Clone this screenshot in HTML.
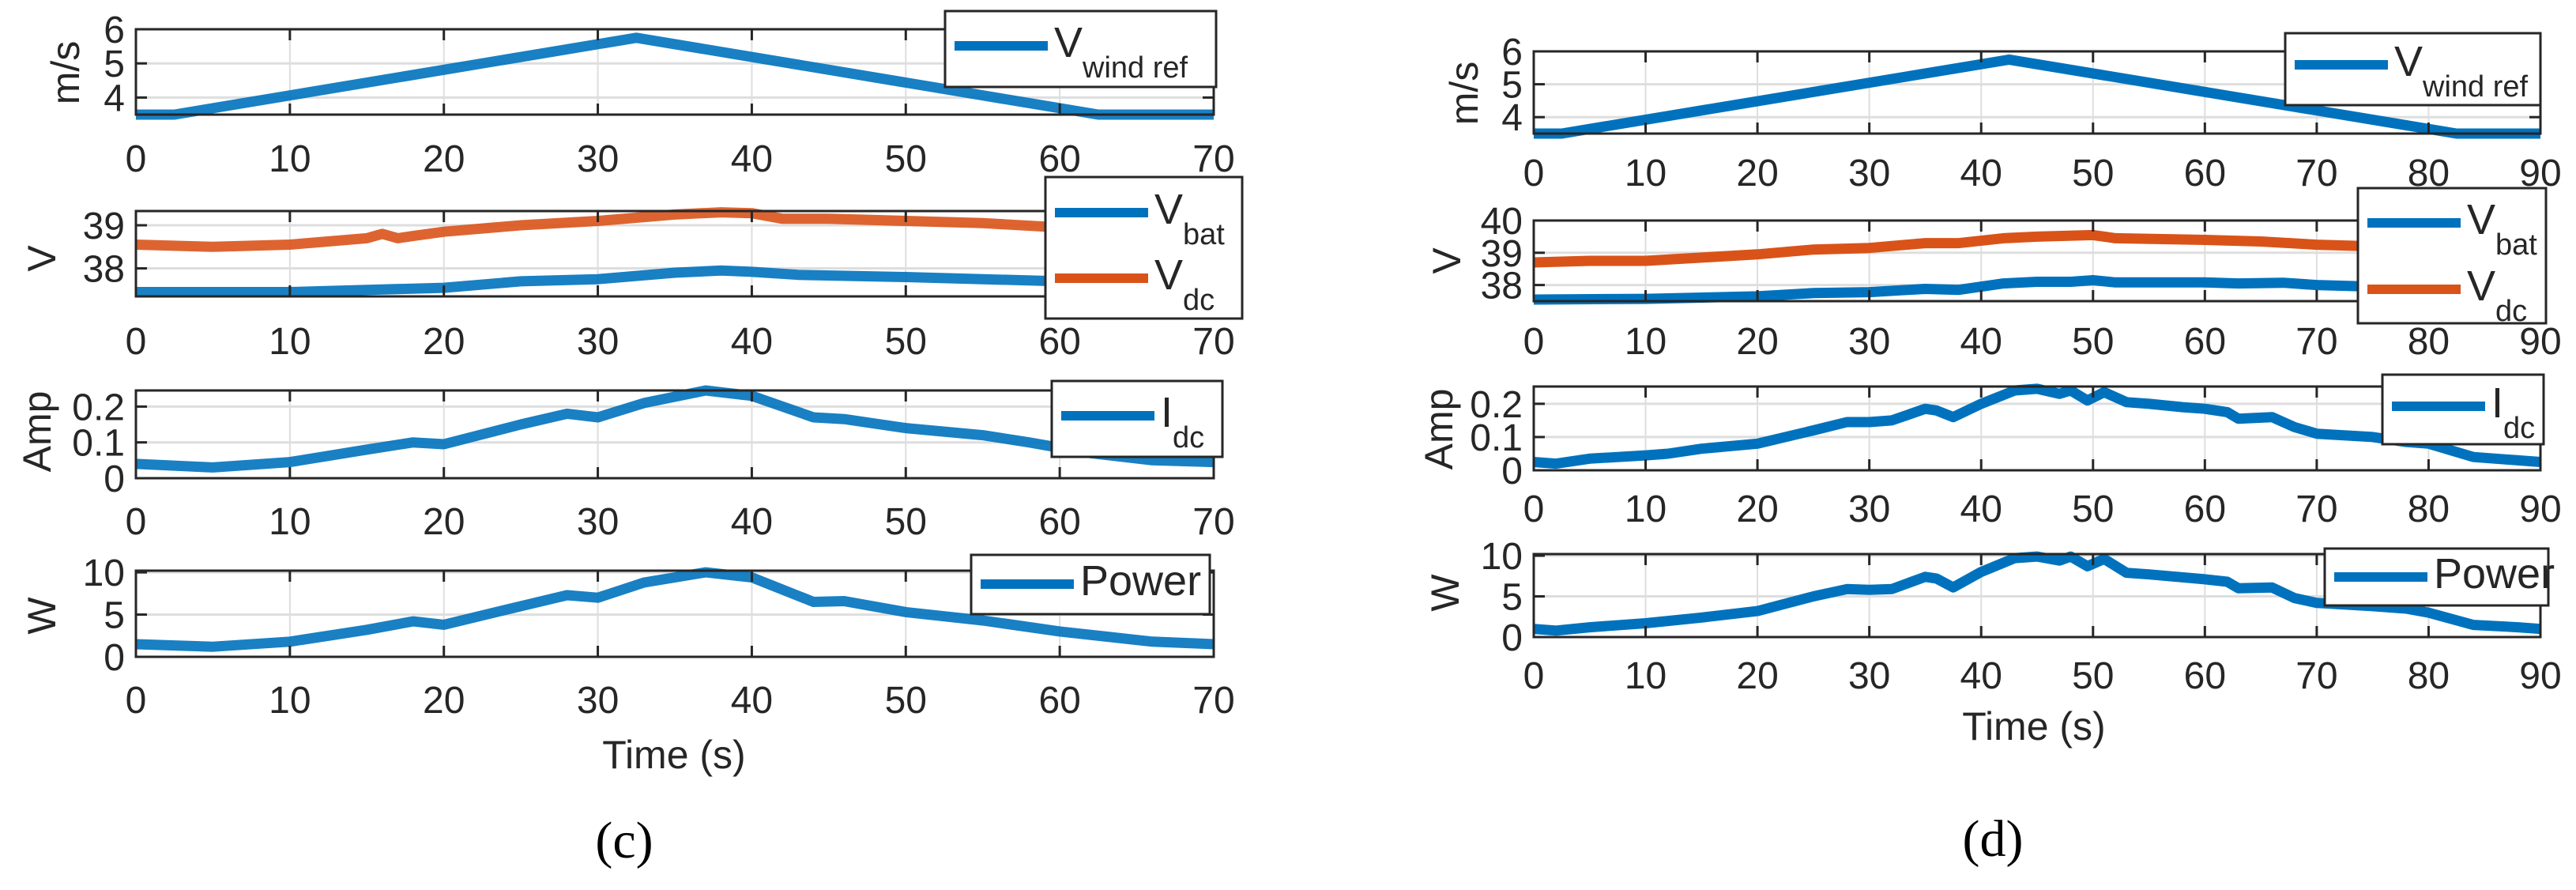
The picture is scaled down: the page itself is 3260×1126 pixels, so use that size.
<!DOCTYPE html>
<html><head><meta charset="utf-8">
<style>
html,body{margin:0;padding:0;background:#fff;}
svg{display:block;}
text{font-family:"Liberation Sans",Arial,sans-serif;fill:#262626;}
</style></head>
<body>
<svg id="fig" width="3260" height="1126" viewBox="0 0 3260 1126" xmlns="http://www.w3.org/2000/svg">
<text x="790" y="1085" font-size="66" style="font-family:'Liberation Serif',serif;fill:#000" text-anchor="middle">(c)</text>
<text x="2522" y="1083" font-size="66" style="font-family:'Liberation Serif',serif;fill:#000" text-anchor="middle">(d)</text>
<text x="853" y="972" font-size="50" text-anchor="middle">Time (s)</text>
<text x="2574" y="936" font-size="50" text-anchor="middle">Time (s)</text>
</svg>
<script>
// ---- Panel (c) data ----
const cTicksX = [0,10,20,30,40,50,60,70];
const cWindT = [0,2.5,32.5,62.5,70];
const cWindV = [3.5,3.5,5.75,3.5,3.5];
const cVdcT = [0,5,10,15,16,17,18,20,25,30,35,38,40,42,45,50,55,60,65,70];
const cVdcV = [38.55,38.5,38.55,38.7,38.8,38.7,38.75,38.85,39.0,39.1,39.25,39.3,39.28,39.15,39.15,39.1,39.05,38.95,38.95,38.9];
const cVbatT = [0,10,20,25,30,35,38,40,43,50,60,70];
const cVbatV = [37.45,37.45,37.55,37.7,37.75,37.9,37.95,37.92,37.85,37.8,37.7,37.65];
const cIdcT = [0,5,10,15,18,20,25,28,30,33,37,40,44,46,50,55,58,62,66,70];
const cIdcV = [0.04,0.03,0.045,0.08,0.1,0.095,0.15,0.18,0.17,0.21,0.245,0.23,0.17,0.165,0.14,0.12,0.1,0.07,0.05,0.045];
const cPowT = [0,5,10,15,18,20,25,28,30,33,37,40,44,46,50,55,60,66,70];
const cPowV = [1.5,1.2,1.8,3.2,4.2,3.8,6,7.3,7,8.8,10,9.4,6.5,6.6,5.3,4.3,3,1.8,1.5];
// ---- Panel (d) data ----
const dTicksX = [0,10,20,30,40,50,60,70,80,90];
const dWindT = [0,2.5,42.5,82.5,90];
const dWindV = [3.5,3.5,5.75,3.5,3.5];
const dVdcT = [0,5,10,15,20,25,30,35,38,42,45,50,52,60,65,70,75,90];
const dVdcV = [38.7,38.75,38.75,38.85,38.95,39.1,39.15,39.3,39.3,39.45,39.5,39.55,39.45,39.4,39.35,39.25,39.2,39.1];
const dVbatT = [0,10,20,25,30,35,38,42,45,48,50,52,60,63,67,70,75,90];
const dVbatV = [37.55,37.57,37.65,37.75,37.78,37.88,37.85,38.05,38.1,38.1,38.15,38.08,38.08,38.05,38.07,38.0,37.95,37.9];
const dIdcT = [0,2,5,10,12,15,20,25,28,30,32,35,36,37.5,40,43,45,47,48,49.5,51,53,55,58,60,62,63,66,68,70,75,78,80,84,88,90];
const dIdcV = [0.025,0.02,0.035,0.045,0.05,0.065,0.08,0.12,0.145,0.145,0.15,0.185,0.18,0.16,0.2,0.24,0.245,0.23,0.24,0.21,0.235,0.205,0.2,0.19,0.185,0.175,0.155,0.16,0.13,0.11,0.1,0.085,0.08,0.04,0.03,0.025];
const dPowT = [0,2,5,10,15,20,25,28,30,32,35,36,37.5,40,43,45,47,48,49.5,51,53,55,60,62,63,66,68,70,75,78,80,84,88,90];
const dPowV = [1,0.8,1.2,1.7,2.4,3.2,5,5.9,5.8,5.9,7.4,7.2,6.1,8,9.7,9.9,9.4,9.9,8.7,9.6,7.9,7.7,7.1,6.8,6,6.1,4.8,4.2,3.8,3.5,3,1.5,1.2,1];

const BLUE="#0072BD", ORANGE="#D95319";
const NS="http://www.w3.org/2000/svg";
const svg=document.getElementById('fig');
function mk(tag,attrs,parent){const e=document.createElementNS(NS,tag);for(const k in attrs)e.setAttribute(k,attrs[k]);(parent||svg).appendChild(e);return e;}

function axis(o){
  const g=mk('g',{});
  
  
  const sx=v=>o.x0+(v-o.xmin)/(o.xmax-o.xmin)*(o.x1-o.x0);
  const sy=v=>o.y1-(v-o.ymin)/(o.ymax-o.ymin)*(o.y1-o.y0);
  o.xt.forEach(t=>{const l=mk('line',{x1:sx(t),x2:sx(t),y1:o.y0,y2:o.y1,stroke:'#dedede','stroke-width':2},g);
    
    });
  o.yt.forEach(t=>{const l=mk('line',{x1:o.x0,x2:o.x1,y1:sy(t),y2:sy(t),stroke:'#dedede','stroke-width':3},g);
    
    });
  o.series.forEach(s=>{
    let d='';s.t.forEach((t,i)=>{d+=(i?'L':'M')+sx(t).toFixed(1)+','+sy(s.v[i]).toFixed(1);});
    const p=mk('path',{d:d,fill:'none',stroke:s.color,'stroke-width':o.lw,'stroke-linejoin':'round','stroke-linecap':'butt',opacity:o.op},g);
    
    
  });
  const b=mk('rect',{x:o.x0,y:o.y0,width:o.x1-o.x0,height:o.y1-o.y0,fill:'none',stroke:'#262626','stroke-width':3},g);
  
  
  o.xt.forEach(t=>{
    mk('line',{x1:sx(t),x2:sx(t),y1:o.y1,y2:o.y1-14,stroke:'#262626','stroke-width':3},g);
    mk('line',{x1:sx(t),x2:sx(t),y1:o.y0,y2:o.y0+14,stroke:'#262626','stroke-width':3},g);
    const tx=mk('text',{x:sx(t),y:o.xl,'font-size':48,'text-anchor':'middle'},g);tx.textContent=t;
    
    
  });
  o.yt.forEach((t,i)=>{
    mk('line',{x1:o.x0,x2:o.x0+14,y1:sy(t),y2:sy(t),stroke:'#262626','stroke-width':3},g);
    mk('line',{x1:o.x1,x2:o.x1-14,y1:sy(t),y2:sy(t),stroke:'#262626','stroke-width':3},g);
    const tx=mk('text',{x:o.x0-14,y:sy(t)+17,'font-size':48,'text-anchor':'end'},g);tx.textContent=o.ytl[i];
    
    
  });
  const yl=mk('text',{x:0,y:0,'font-size':50,'text-anchor':'middle',transform:`translate(${o.ylx},${o.yly}) rotate(-90)`},g);yl.textContent=o.ylab;
  
  
  const L=o.leg;
  const lg=mk('g',{},g);
  
  
  mk('rect',{x:L.x,y:L.y,width:L.w,height:L.h,fill:'#fff',stroke:'#262626','stroke-width':3},lg);
  L.items.forEach((it,i)=>{
    const cy=L.y+L.cy[i];
    const ln=mk('line',{x1:L.x+12,x2:L.x+130,y1:cy,y2:cy,stroke:it.color,'stroke-width':12},lg);
    
    
    const tx=mk('text',{x:L.x+138,y:cy+14,'font-size':54},lg);
    
    
    tx.appendChild(document.createTextNode(it.main));
    const ts=mk('tspan',{dy:26,'font-size':38},tx);ts.textContent=it.sub;
  });
}
const cx={x0:172,x1:1536,xmin:0,xmax:70,lw:13,op:0.9,xt:cTicksX};
axis(Object.assign({},cx,{name:'c-wind-plot',y0:37,y1:145,ymin:3.5,ymax:6,yt:[4,5,6],ytl:['4','5','6'],xl:217,ylab:'m/s',ylx:100,yly:92,
 series:[{name:'c-wind-line',t:cWindT,v:cWindV,color:BLUE}],
 leg:{x:1196,y:14,w:343,h:96,cy:[44],items:[{color:BLUE,main:'V',sub:'wind ref'}]}}));
axis(Object.assign({},cx,{name:'c-voltage-plot',y0:267,y1:375,ymin:37.35,ymax:39.33,yt:[38,39],ytl:['38','39'],xl:448,ylab:'V',ylx:70,yly:327,
 series:[{name:'c-vdc-line',t:cVdcT,v:cVdcV,color:ORANGE},{name:'c-vbat-line',t:cVbatT,v:cVbatV,color:BLUE}],
 leg:{x:1323,y:224,w:249,h:179,cy:[45,128],items:[{color:BLUE,main:'V',sub:'bat'},{color:ORANGE,main:'V',sub:'dc'}]}}));
axis(Object.assign({},cx,{name:'c-current-plot',y0:494,y1:605,ymin:0,ymax:0.245,yt:[0,0.1,0.2],ytl:['0','0.1','0.2'],xl:676,ylab:'Amp',ylx:64,yly:546,
 series:[{name:'c-idc-line',t:cIdcT,v:cIdcV,color:BLUE}],
 leg:{x:1331,y:482,w:216,h:96,cy:[44],items:[{color:BLUE,main:'I',sub:'dc'}]}}));
axis(Object.assign({},cx,{name:'c-power-plot',y0:722,y1:831,ymin:0,ymax:10.2,yt:[0,5,10],ytl:['0','5','10'],xl:902,ylab:'W',ylx:70,yly:779,
 series:[{name:'c-power-line',t:cPowT,v:cPowV,color:BLUE}],
 leg:{x:1229,y:702,w:302,h:75,cy:[37],items:[{color:BLUE,main:'Power',sub:''}]}}));
const dx={x0:1941,x1:3215,xmin:0,xmax:90,lw:13,op:1,xt:dTicksX};
axis(Object.assign({},dx,{name:'d-wind-plot',y0:65,y1:169,ymin:3.5,ymax:6,yt:[4,5,6],ytl:['4','5','6'],xl:235,ylab:'m/s',ylx:1870,yly:118,
 series:[{name:'d-wind-line',t:dWindT,v:dWindV,color:BLUE}],
 leg:{x:2892,y:42,w:323,h:91,cy:[40],items:[{color:BLUE,main:'V',sub:'wind ref'}]}}));
axis(Object.assign({},dx,{name:'d-voltage-plot',y0:279,y1:381,ymin:37.5,ymax:40,yt:[38,39,40],ytl:['38','39','40'],xl:448,ylab:'V',ylx:1848,yly:330,
 series:[{name:'d-vdc-line',t:dVdcT,v:dVdcV,color:ORANGE},{name:'d-vbat-line',t:dVbatT,v:dVbatV,color:BLUE}],
 leg:{x:2984,y:238,w:238,h:171,cy:[44,128],items:[{color:BLUE,main:'V',sub:'bat'},{color:ORANGE,main:'V',sub:'dc'}]}}));
axis(Object.assign({},dx,{name:'d-current-plot',y0:489,y1:595,ymin:0,ymax:0.252,yt:[0,0.1,0.2],ytl:['0','0.1','0.2'],xl:660,ylab:'Amp',ylx:1838,yly:543,
 series:[{name:'d-idc-line',t:dIdcT,v:dIdcV,color:BLUE}],
 leg:{x:3015,y:474,w:204,h:88,cy:[40],items:[{color:BLUE,main:'I',sub:'dc'}]}}));
axis(Object.assign({},dx,{name:'d-power-plot',y0:701,y1:806,ymin:0,ymax:10.2,yt:[0,5,10],ytl:['0','5','10'],xl:871,ylab:'W',ylx:1846,yly:750,
 series:[{name:'d-power-line',t:dPowT,v:dPowV,color:BLUE}],
 leg:{x:2942,y:694,w:283,h:72,cy:[36],items:[{color:BLUE,main:'Power',sub:''}]}}));
</script>
</body></html>
